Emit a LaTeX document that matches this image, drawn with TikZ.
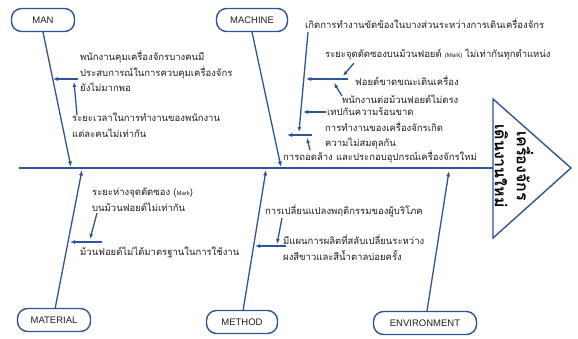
\documentclass[tikz,border=0pt]{standalone}
\usepackage{fontspec}
\setmainfont{Liberation Sans}
\newfontfamily\thai[Script=Thai]{Loma}
\usetikzlibrary{arrows.meta}
\definecolor{bone}{RGB}{47,85,151}
\definecolor{txt}{RGB}{30,30,30}
\newcommand{\mk}[1]{{\normalfont\fontsize{6}{6}\selectfont #1}}
\begin{document}
\begin{tikzpicture}[x=1pt,y=-1pt,
  cat/.style={draw=bone, line width=1.4pt, rounded corners=10pt, fill=white, minimum height=23pt, font=\fontsize{9.5}{11}\selectfont, text=txt, inner sep=0pt},
  lbl/.style={anchor=west, inner sep=0pt, align=left, text=txt, font=\thai\fontsize{9.5}{15.5}\selectfont},
  bonel/.style={draw=bone, line width=1.3pt, -{Latex[length=5.5pt,width=4.2pt]}},
  subl/.style={draw=bone, line width=1.3pt, -{Latex[length=5pt,width=4pt]}}
]
\useasboundingbox (0,0) rectangle (578,339);
\fill[white] (0,0) rectangle (578,339);

% spine and head
\coordinate (spL) at (19,168);
\coordinate (spR) at (493,168);
\draw[bone, line width=1.4pt] (spL) -- (spR);
\draw[bone, line width=1.4pt] (493,99) -- (571,168) -- (493,238) -- cycle;
\node[rotate=-90, align=center, text=black, inner sep=0pt, font=\thai\bfseries\fontsize{16}{22}\selectfont] (head) at (514,166) {เครื่องจักร\\เดินงานใหม่};

% category boxes
\node[cat, minimum width=63pt] (man) at (43,20) {MAN};
\node[cat, minimum width=71pt] (machine) at (252,20) {MACHINE};
\node[cat, minimum width=73pt] (material) at (54,320) {MATERIAL};
\node[cat, minimum width=71pt] (method) at (242,322) {METHOD};
\node[cat, minimum width=103pt] (env) at (425,323) {ENVIRONMENT};

% main bones
\coordinate (manS) at (43,32);   \coordinate (manE) at (71,167);
\coordinate (machS) at (252,32); \coordinate (machE) at (281,167);
\coordinate (matS) at (55,309);  \coordinate (matE) at (82,170);
\coordinate (methS) at (243,311);\coordinate (methE) at (266,170);
\coordinate (envS) at (427,311); \coordinate (envE) at (449,171);
\draw[bonel] (manS) -- (manE);
\draw[bonel] (machS) -- (machE);
\draw[bonel] (matS) -- (matE);
\draw[bonel] (methS) -- (methE);
\draw[bonel] (envS) -- (envE);

% MAN causes
\node[lbl] (man1) at (80,71.5) {พนักงานคุมเครื่องจักรบางคนมี\\ประสบการณ์ในการควบคุมเครื่องจักร\\ยังไม่มากพอ};
\node[lbl] (man2) at (72,125.5) {ระยะเวลาในการทำงานของพนักงาน\\แต่ละคนไม่เท่ากัน};
\coordinate (m1a) at (78,79); \coordinate (m1b) at (53,79);
\coordinate (m2a) at (77,115); \coordinate (m2b) at (74,82);
\draw[subl] (m1a) -- (m1b);
\draw[subl] (m2a) -- (m2b);

% MACHINE causes
\node[lbl] (mc1) at (305,24) {เกิดการทำงานขัดข้องในบางส่วนระหว่างการเดินเครื่องจักร};
\node[lbl] (mc2) at (325,54) {ระยะจุดตัดซองบนม้วนฟอยด์ \mk{(Mark)} ไม่เท่ากันทุกตำแหน่ง};
\node[lbl] (mc3) at (355,81) {ฟอยด์ขาดขณะเดินเครื่อง};
\node[lbl] (mc4) at (342,99) {พนักงานต่อม้วนฟอยด์ไม่ตรง};
\node[lbl] (mc5) at (327,112) {เทปกันความร้อนขาด};
\node[lbl] (mc6) at (325,135.5) {การทำงานของเครื่องจักรเกิด\\ความไม่สมดุลกัน};
\node[lbl] (mc7) at (283,157) {การถอดล้าง และประกอบอุปกรณ์เครื่องจักรใหม่};
\coordinate (c1a) at (308,32); \coordinate (c1b) at (299,132);
\coordinate (c2a) at (348,79); \coordinate (c2b) at (306,79);
\coordinate (c3a) at (354,63); \coordinate (c3b) at (343,76);
\coordinate (c4a) at (342,96); \coordinate (c4b) at (334,83);
\coordinate (c5a) at (326,112); \coordinate (c5b) at (303,112);
\coordinate (c6a) at (312,135); \coordinate (c6b) at (287,135);
\coordinate (c7a) at (310,150); \coordinate (c7b) at (307,138);
\draw[subl] (c1a) -- (c1b);
\draw[subl] (c2a) -- (c2b);
\draw[subl] (c3a) -- (c3b);
\draw[subl] (c4a) -- (c4b);
\draw[subl] (c5a) -- (c5b);
\draw[subl] (c6a) -- (c6b);
\draw[subl] (c7a) -- (c7b);

% MATERIAL causes
\node[lbl] (mt1) at (92,199.5) {ระยะห่างจุดตัดซอง (\mk{Mark})\\บนม้วนฟอยด์ไม่เท่ากัน};
\node[lbl] (mt2) at (80,252) {ม้วนฟอยด์ไม่ได้มาตรฐานในการใช้งาน};
\coordinate (t1a) at (97,213); \coordinate (t1b) at (90,239);
\coordinate (t2a) at (102,242); \coordinate (t2b) at (70,242);
\draw[subl] (t1a) -- (t1b);
\draw[subl] (t2a) -- (t2b);

% METHOD causes
\node[lbl] (me1) at (265,211) {การเปลี่ยนแปลงพฤติกรรมของผู้บริโภค};
\node[lbl] (me2) at (283,247.5) {มีแผนการผลิตที่สลับเปลี่ยนระหว่าง\\ผงสีขาวและสีน้ำตาลบ่อยครั้ง};
\coordinate (e1a) at (282,218); \coordinate (e1b) at (277,244);
\coordinate (e2a) at (286,246); \coordinate (e2b) at (255,246);
\draw[subl] (e1a) -- (e1b);
\draw[subl] (e2a) -- (e2b);
\end{tikzpicture}
\end{document}
